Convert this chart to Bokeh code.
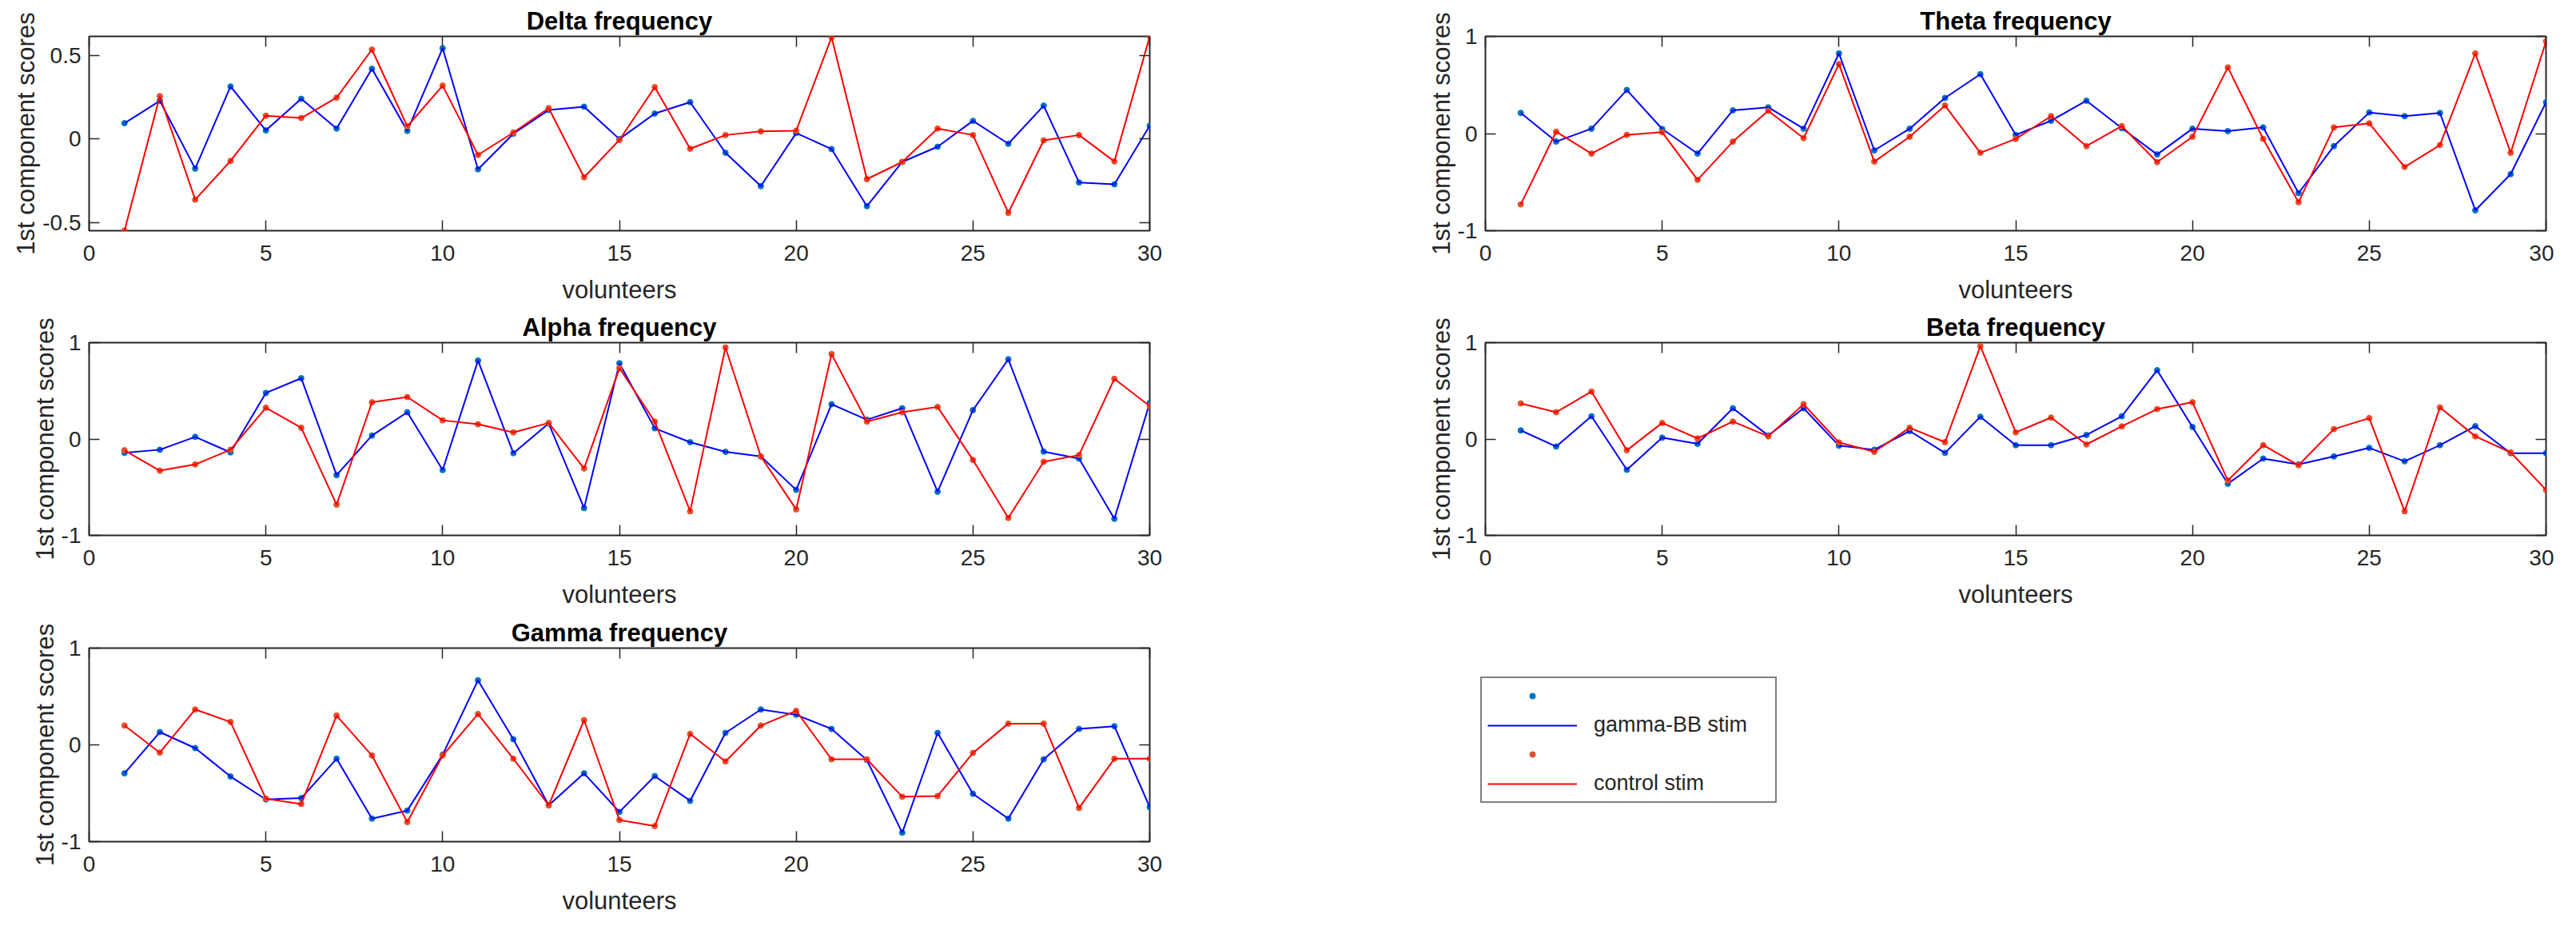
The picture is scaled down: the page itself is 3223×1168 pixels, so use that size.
import numpy as np
from bokeh.plotting import figure
from bokeh.models import (ColumnDataSource, Range1d, FixedTicker, LinearAxis,
                          Legend, LegendItem)
from bokeh.layouts import row, column
from bokeh.embed import file_html
from bokeh.resources import INLINE
from bokeh.core.properties import value

# ---------------- data ----------------
volunteers = list(range(1, 31))
x_ticks = [0, 5, 10, 15, 20, 25, 30]

delta_gbb = [0.095, 0.229, -0.177, 0.315, 0.052, 0.241, 0.063, 0.421, 0.049, 0.544,
             -0.181, 0.032, 0.174, 0.194, 0.0, 0.153, 0.221, -0.082, -0.282, 0.036,
             -0.06, -0.402, -0.137, -0.046, 0.109, -0.028, 0.2, -0.26, -0.271, 0.08]
delta_ctrl = [-0.549, 0.257, -0.363, -0.131, 0.140, 0.126, 0.248, 0.536, 0.076, 0.32,
              -0.095, 0.039, 0.185, -0.229, -0.005, 0.311, -0.058, 0.024, 0.046, 0.05,
              0.61, -0.24, -0.137, 0.063, 0.024, -0.442, -0.008, 0.024, -0.134, 0.615]

theta_gbb = [0.212, -0.083, 0.05, 0.448, 0.047, -0.206, 0.239, 0.27, 0.05, 0.825,
             -0.173, 0.05, 0.366, 0.611, -0.014, 0.132, 0.338, 0.055, -0.215, 0.05,
             0.025, 0.063, -0.613, -0.129, 0.217, 0.179, 0.212, -0.79, -0.418, 0.322]
theta_ctrl = [-0.729, 0.019, -0.206, -0.014, 0.014, -0.476, -0.083, 0.234, -0.047, 0.715,
              -0.289, -0.033, 0.289, -0.198, -0.055, 0.179, -0.129, 0.077, -0.294, -0.033,
              0.68, -0.055, -0.707, 0.063, 0.105, -0.344, -0.118, 0.825, -0.198, 0.949]

alpha_gbb = [-0.144, -0.111, 0.022, -0.139, 0.478, 0.631, -0.375, 0.036, 0.278, -0.322,
             0.814, -0.147, 0.161, -0.717, 0.786, 0.111, -0.033, -0.133, -0.181, -0.528,
             0.361, 0.2, 0.319, -0.547, 0.3, 0.828, -0.131, -0.203, -0.828, 0.375]
alpha_ctrl = [-0.117, -0.328, -0.264, -0.111, 0.325, 0.117, -0.681, 0.381, 0.436, 0.194,
              0.153, 0.069, 0.167, -0.306, 0.736, 0.181, -0.75, 0.95, -0.181, -0.731,
              0.881, 0.181, 0.278, 0.333, -0.217, -0.819, -0.236, -0.167, 0.625, 0.342]

beta_gbb = [0.089, -0.078, 0.236, -0.319, 0.014, -0.05, 0.319, 0.036, 0.319, -0.069,
            -0.111, 0.083, -0.144, 0.231, -0.064, -0.064, 0.042, 0.236, 0.714, 0.125,
            -0.464, -0.203, -0.264, -0.181, -0.092, -0.231, -0.064, 0.133, -0.147, -0.147]
beta_ctrl = [0.369, 0.278, 0.492, -0.117, 0.167, 0.006, 0.181, 0.028, 0.361, -0.036,
             -0.133, 0.117, -0.033, 0.964, 0.069, 0.222, -0.056, 0.131, 0.311, 0.381,
             -0.431, -0.064, -0.272, 0.103, 0.217, -0.75, 0.328, 0.028, -0.139, -0.528]

gamma_gbb = [-0.294, 0.132, -0.033, -0.327, -0.564, -0.55, -0.143, -0.762, -0.679, -0.102,
             0.668, 0.058, -0.624, -0.294, -0.693, -0.322, -0.578, 0.124, 0.366, 0.311,
             0.165, -0.157, -0.908, 0.124, -0.506, -0.762, -0.149, 0.165, 0.193, -0.644]
gamma_ctrl = [0.2, -0.08, 0.366, 0.237, -0.556, -0.611, 0.303, -0.11, -0.798, -0.11,
              0.319, -0.143, -0.624, 0.256, -0.776, -0.839, 0.113, -0.171, 0.2, 0.352,
              -0.149, -0.149, -0.536, -0.528, -0.083, 0.22, 0.22, -0.652, -0.143, -0.143]

delta_yticks = [-0.5, 0, 0.5]
delta_ylabels = {-0.5: "-0.5", 0: "0", 0.5: "0.5"}
unit_yticks = [-1, 0, 1]
unit_ylabels = {-1: "-1", 0: "0", 1: "1"}

series_names = ["gamma-BB stim", "control stim"]

# ---------------- style ----------------
FONT = "Liberation Sans"
AX_COLOR = "#262626"
BLUE_LINE = "#0000FF"
RED_LINE = "#FF0000"
BLUE_DOT = "#0072BD"
RED_DOT = "#E5502A"
TICK_LEN = 13


def style_axis(ax, ticks, overrides=None, show_labels=True):
    ax.ticker = FixedTicker(ticks=ticks)
    ax.axis_line_color = None
    ax.major_tick_in = TICK_LEN
    ax.major_tick_out = 0
    ax.major_tick_line_color = AX_COLOR
    ax.major_tick_line_width = 1.5
    ax.minor_tick_line_color = None
    if show_labels:
        ax.major_label_text_font = FONT
        ax.major_label_text_font_size = "28px"
        ax.major_label_text_color = AX_COLOR
        if overrides:
            ax.major_label_overrides = overrides
    else:
        # mirrored axis: ticks only, no tick labels
        ax.major_label_overrides = {t: "" for t in ticks}
        ax.major_label_text_font_size = "1px"
        ax.major_label_standoff = 0


def make_panel(title, gbb, ctrl, yticks, ylabels, yrange, width, height,
               bl, br, bt, bb):
    p = figure(width=width, height=height, toolbar_location=None,
               output_backend="svg",
               x_range=Range1d(0, 30), y_range=Range1d(*yrange),
               min_border_left=bl, min_border_right=br,
               min_border_top=bt, min_border_bottom=bb)
    p.grid.visible = False
    p.outline_line_color = AX_COLOR
    p.outline_line_width = 2
    p.background_fill_color = "white"
    p.border_fill_color = "white"

    p.title.text = title
    p.title.align = "center"
    p.title.text_font = FONT
    p.title.text_font_size = "31px"
    p.title.text_font_style = "bold"
    p.title.text_color = "#000000"
    p.title.standoff = 4

    style_axis(p.xaxis[0], x_ticks)
    p.xaxis[0].major_label_standoff = 18
    p.xaxis[0].axis_label = "volunteers"
    p.xaxis[0].axis_label_standoff = 16
    style_axis(p.yaxis[0], yticks, ylabels)
    p.yaxis[0].major_label_standoff = 10
    p.yaxis[0].axis_label = "1st component scores"
    p.yaxis[0].axis_label_standoff = 0
    for ax in (p.xaxis[0], p.yaxis[0]):
        ax.axis_label_text_font = FONT
        ax.axis_label_text_font_size = "31px"
        ax.axis_label_text_font_style = "normal"
        ax.axis_label_text_color = AX_COLOR

    top = LinearAxis()
    style_axis(top, x_ticks, show_labels=False)
    p.add_layout(top, "above")
    right = LinearAxis()
    style_axis(right, yticks, show_labels=False)
    p.add_layout(right, "right")

    src = ColumnDataSource(dict(x=volunteers, g=gbb, c=ctrl))
    p.scatter("x", "g", source=src, size=7, color=BLUE_DOT)
    p.line("x", "g", source=src, color=BLUE_LINE, line_width=2)
    p.scatter("x", "c", source=src, size=7, color=RED_DOT)
    p.line("x", "c", source=src, color=RED_LINE, line_width=2)
    return p


W1, W2 = 1600, 1595
H1, H2, H3 = 383, 383, 386

delta_range = (min(delta_gbb + delta_ctrl), max(delta_gbb + delta_ctrl))

p_delta = make_panel("Delta frequency", delta_gbb, delta_ctrl, delta_yticks, delta_ylabels,
                     delta_range, W1, H1, 111, 162, 45, 95)
p_theta = make_panel("Theta frequency", theta_gbb, theta_ctrl, unit_yticks, unit_ylabels,
                     (-1, 1), W2, H1, 258, 10, 45, 95)
p_alpha = make_panel("Alpha frequency", alpha_gbb, alpha_ctrl, unit_yticks, unit_ylabels,
                     (-1, 1), W1, H2, 111, 162, 45, 97)
p_beta = make_panel("Beta frequency", beta_gbb, beta_ctrl, unit_yticks, unit_ylabels,
                    (-1, 1), W2, H2, 258, 10, 45, 97)
p_gamma = make_panel("Gamma frequency", gamma_gbb, gamma_ctrl, unit_yticks, unit_ylabels,
                     (-1, 1), W1, H3, 111, 162, 44, 100)

# ---------------- legend panel ----------------
# same top/bottom borders as the Gamma panel so row frame alignment changes nothing
p_leg = figure(width=W2, height=H3, toolbar_location=None, output_backend="svg",
               x_range=Range1d(0, 1), y_range=Range1d(0, 1),
               x_axis_location=None, y_axis_location=None,
               min_border_left=250, min_border_right=18,
               min_border_top=44, min_border_bottom=100)
p_leg.grid.visible = False
p_leg.outline_line_color = None
# legend proxies: one NaN point each, so nothing is drawn in the panel itself
proxy = ColumnDataSource(dict(x=np.array([np.nan]), y=np.array([np.nan])))
r_bd = p_leg.scatter("x", "y", source=proxy, size=7, color=BLUE_DOT)
r_bl = p_leg.line("x", "y", source=proxy, color=BLUE_LINE, line_width=2)
r_rd = p_leg.scatter("x", "y", source=proxy, size=7, color=RED_DOT)
r_rl = p_leg.line("x", "y", source=proxy, color=RED_LINE, line_width=2)
legend = Legend(items=[
    LegendItem(label=value(""), renderers=[r_bd]),
    LegendItem(label=value(series_names[0]), renderers=[r_bl]),
    LegendItem(label=value(""), renderers=[r_rd]),
    LegendItem(label=value(series_names[1]), renderers=[r_rl]),
], location=(2, 48), padding=7, margin=0, spacing=6,
    glyph_width=112, glyph_height=18, label_height=30, label_width=220,
    label_standoff=21,
    label_text_font=FONT, label_text_font_size="27px", label_text_color=AX_COLOR,
    border_line_color="#000000", border_line_width=2,
    background_fill_color="white", background_fill_alpha=1)
p_leg.add_layout(legend)

layout = column(row(p_delta, p_theta), row(p_alpha, p_beta), row(p_gamma, p_leg))

open("out.html", "w").write(file_html(layout, INLINE))
